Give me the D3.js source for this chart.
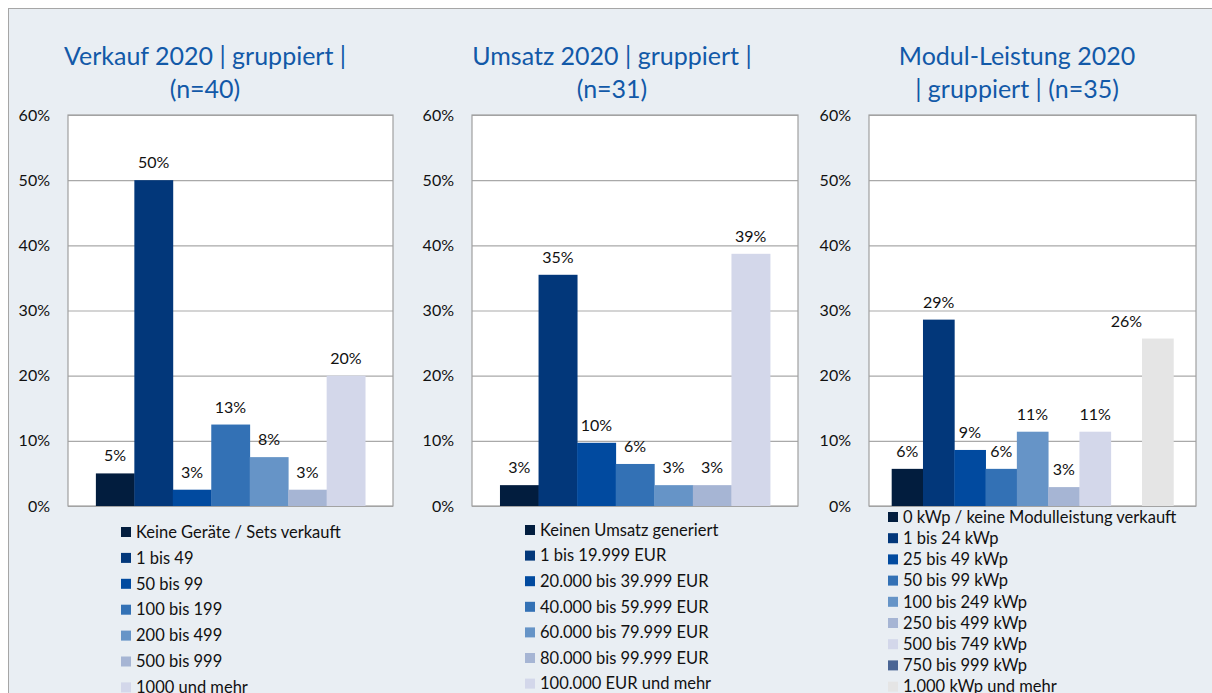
<!DOCTYPE html>
<meta charset="utf-8">
<style>
body { margin: 0; background: #fff; }
text { font-family: Lato, "Open Sans", sans-serif; fill: #111; }
.title { fill: #1259a8; font-size: 25px; }
.axis text { font-size: 16px; }
.axis .domain { display: none; }
.axis line { stroke: #a9a9a9; stroke-width: 1.2px; }
.val { font-size: 16px; }
.leg { font-size: 16.5px; }
</style>
<svg width="1212" height="693"></svg>
<script src="https://cdn.jsdelivr.net/npm/d3@7"></script>
<script>

// ---- data ----
var yTicks = [0, 10, 20, 30, 40, 50, 60];

var verkaufTitle = ["Verkauf 2020 | gruppiert |", "(n=40)"];
var verkaufLabels = ["Keine Geräte / Sets verkauft", "1 bis 49", "50 bis 99", "100 bis 199",
                     "200 bis 499", "500 bis 999", "1000 und mehr"];
var verkaufValues = [5.0, 50.0, 2.5, 12.5, 7.5, 2.5, 20.0];

var umsatzTitle = ["Umsatz 2020 | gruppiert |", "(n=31)"];
var umsatzLabels = ["Keinen Umsatz generiert", "1 bis 19.999 EUR", "20.000 bis 39.999 EUR",
                    "40.000 bis 59.999 EUR", "60.000 bis 79.999 EUR", "80.000 bis 99.999 EUR",
                    "100.000 EUR und mehr"];
var umsatzValues = [3.2, 35.48, 9.7, 6.45, 3.2, 3.2, 38.7];

var modulTitle = ["Modul-Leistung 2020", "| gruppiert | (n=35)"];
var modulLabels = ["0 kWp / keine Modulleistung verkauft", "1 bis 24 kWp", "25 bis 49 kWp",
                   "50 bis 99 kWp", "100 bis 249 kWp", "250 bis 499 kWp", "500 bis 749 kWp",
                   "750 bis 999 kWp", "1.000 kWp und mehr"];
var modulValues = [5.7, 28.6, 8.6, 5.7, 11.4, 2.9, 11.4, 0, 25.7];

var colors7 = ["#021d3e", "#02377a", "#014a9f", "#3371b5", "#6694c7", "#a6b5d4", "#d3d7ea"];
var colors9 = colors7.concat(["#4a6594", "#e5e5e5"]);

// ---- layout ----
var svg = d3.select("svg");

// outer panel
svg.append("rect")
    .attr("x", 8.5).attr("y", 8.5)
    .attr("width", 1220).attr("height", 700)
    .attr("fill", "#e9eef3")
    .attr("stroke", "#a6a6a6");

var top0 = 115, bottom0 = 506;

var panels = [
  {title: verkaufTitle, labels: verkaufLabels, values: verkaufValues, colors: colors7,
   x0: 68, x1: 393, tx: 205, lx: 121, ly: 532, step: 25.9},
  {title: umsatzTitle, labels: umsatzLabels, values: umsatzValues, colors: colors7,
   x0: 472, x1: 798, tx: 612, lx: 525, ly: 530, step: 25.6},
  {title: modulTitle, labels: modulLabels, values: modulValues, colors: colors9,
   x0: 869, x1: 1196, tx: 1017, lx: 888, ly: 517, step: 21.2}
];

var y = d3.scaleLinear().domain([0, 60]).range([bottom0, top0]);

panels.forEach(function(p) {
  var g = svg.append("g");

  // title
  g.append("text")
      .attr("class", "title")
      .attr("text-anchor", "middle")
    .selectAll("tspan")
    .data(p.title)
    .enter().append("tspan")
      .attr("x", p.tx)
      .attr("y", function(d, i) { return 65 + i * 33; })
      .text(function(d) { return d; });

  // plot area
  g.append("rect")
      .attr("x", p.x0).attr("y", top0)
      .attr("width", p.x1 - p.x0).attr("height", bottom0 - top0)
      .attr("fill", "#fff");

  g.append("g")
      .attr("class", "axis")
      .attr("transform", "translate(" + p.x0 + ",0)")
      .call(d3.axisLeft(y)
          .tickValues(yTicks)
          .tickSize(-(p.x1 - p.x0))
          .tickPadding(18)
          .tickFormat(function(d) { return d + "%"; }));

  g.append("rect")
      .attr("x", p.x0).attr("y", top0)
      .attr("width", p.x1 - p.x0).attr("height", bottom0 - top0)
      .attr("fill", "none")
      .attr("stroke", "#a0a0a0")
      .attr("stroke-width", 1.2);

  var x = d3.scaleBand()
      .domain(p.labels)
      .range([p.x0, p.x1])
      .paddingInner(0)
      .paddingOuter(0.725);

  g.selectAll(".bar")
    .data(p.values)
    .enter().append("rect")
      .attr("class", "bar")
      .attr("x", function(d, i) { return x(p.labels[i]); })
      .attr("width", x.bandwidth() + 0.4)
      .attr("y", function(d) { return y(d); })
      .attr("height", function(d) { return y(0) - y(d); })
      .attr("fill", function(d, i) { return p.colors[i]; });

  g.selectAll(".val")
    .data(p.values)
    .enter().append("text")
      .filter(function(d) { return d > 0; })
      .attr("class", "val")
      .attr("text-anchor", "middle")
      .attr("x", function(d, i) { return x(p.labels[i]) + x.bandwidth() / 2; })
      .attr("y", function(d) { return y(d) - 12; })
      .text(function(d) { return Math.round(d) + "%"; });

  // legend
  var leg = g.selectAll(".legrow")
    .data(p.labels)
    .enter().append("g")
      .attr("class", "legrow")
      .attr("transform", function(d, i) { return "translate(" + p.lx + "," + (p.ly + i * p.step) + ")"; });

  leg.append("rect")
      .attr("x", 0).attr("y", -5)
      .attr("width", 10).attr("height", 10)
      .attr("fill", function(d, i) { return p.colors[i]; });

  leg.append("text")
      .attr("class", "leg")
      .attr("x", 15)
      .attr("dy", "0.35em")
      .text(function(d) { return d; });
});

</script>
